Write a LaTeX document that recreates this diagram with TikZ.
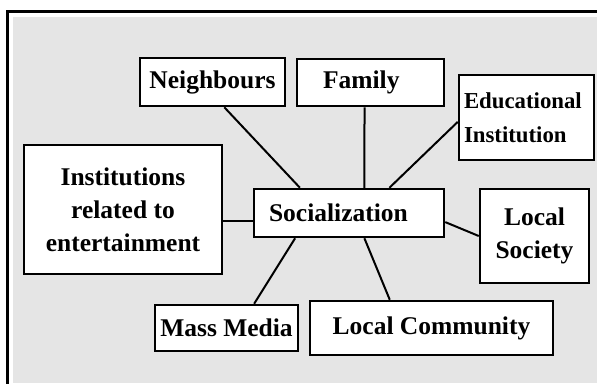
\documentclass[tikz,border=0pt]{standalone}
\usepackage{fontspec}
\setmainfont{Liberation Serif}
\usetikzlibrary{calc}

\begin{document}
\begin{tikzpicture}[
    x=1pt, y=-1pt,
    box/.style={draw, line width=2.5pt, fill=white, inner sep=0pt, align=center,
                font=\fontsize{25.5}{33}\selectfont\bfseries},
    leftbox/.style={box, align=left},
    link/.style={line width=2pt},
    frame/.style={draw, line width=2.5pt}
]
\useasboundingbox (0,0) rectangle (597,383);
\fill[white] (0,0) rectangle (597,383);
\fill[black!10] (13,17) rectangle (597,383);
\draw[frame] (7.5,11.5) rectangle (640,420);

\node[box, minimum width=145pt, minimum height=48pt] (nb) at (212.5,82) {Neighbours};
\node[leftbox, inner xsep=26pt, text width=95pt, minimum height=47pt] (fam) at (370.5,82.5) {Family};
\node[leftbox, inner xsep=5pt, text width=125pt, minimum height=85pt,
      font=\fontsize{22.8}{34}\selectfont\bfseries] (edu) at (526.5,117.5) {Educational\\Institution};
\node[box, minimum width=198pt, minimum height=129pt] (inst) at (123,209.5)
     {Institutions\\related to\\entertainment};
\node[leftbox, inner xsep=15pt, text width=160pt, minimum height=48pt] (soc) at (349,213) {Socialization};
\node[box, minimum width=109pt, minimum height=94pt] (ls) at (534.5,236) {Local\\Society};
\node[box, minimum width=143pt, minimum height=46pt] (mm) at (226.5,328) {Mass Media};
\node[box, minimum width=243pt, minimum height=54pt] (lc) at (431.5,328) {Local Community};

\draw[link] ($(nb.south west)!0.58!(nb.south east)$) -- ($(soc.north west)!0.245!(soc.north east)$);
\draw[link] ($(fam.south west)!0.46!(fam.south east)$) -- ($(soc.north west)!0.58!(soc.north east)$);
\draw[link] ($(edu.north west)!0.55!(edu.south west)$) -- ($(soc.north west)!0.71!(soc.north east)$);
\draw[link] ($(soc.north west)!0.66!(soc.south west)$) coordinate (sw) -- (sw -| inst.east);
\draw[link] ($(soc.north east)!0.68!(soc.south east)$) -- (ls.west);
\draw[link] ($(soc.south west)!0.58!(soc.south east)$) -- ($(lc.north west)!0.33!(lc.north east)$);
\draw[link] ($(soc.south west)!0.22!(soc.south east)$) -- ($(mm.north west)!0.69!(mm.north east)$);
\end{tikzpicture}
\end{document}
